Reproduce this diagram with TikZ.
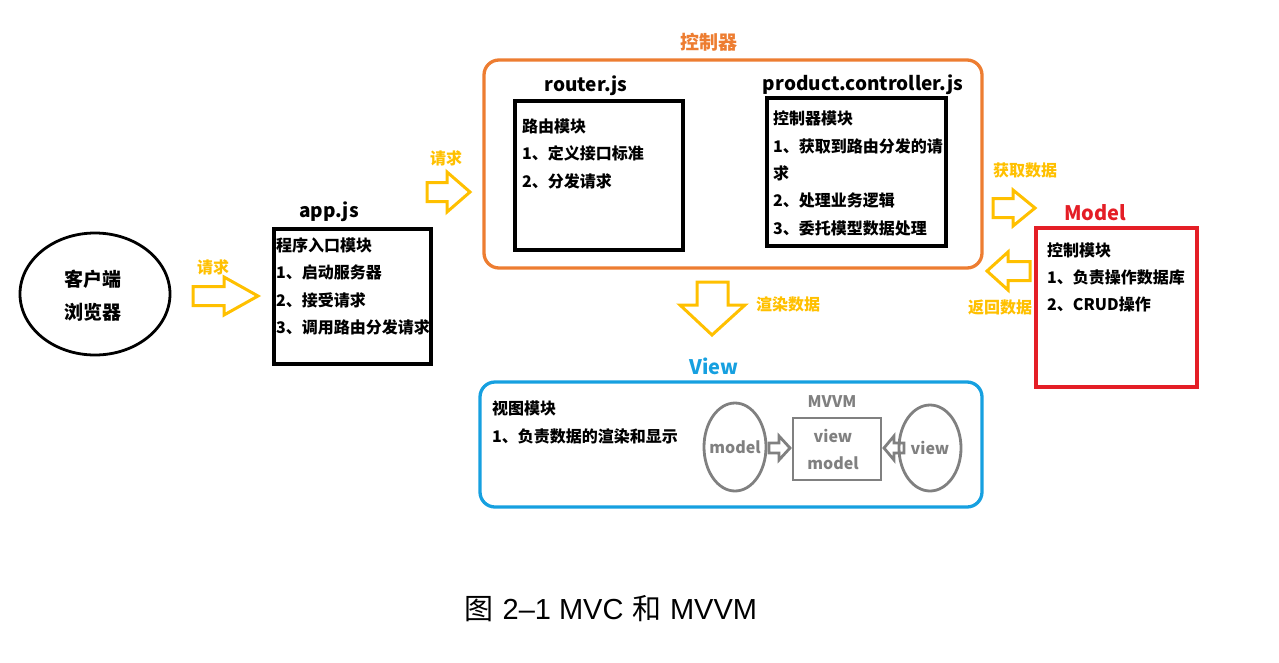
\documentclass[tikz,border=0pt]{standalone}
\usepackage{fontspec}
\newfontfamily\cjk{Noto Sans CJK SC}
\newfontfamily\capfont{Liberation Sans}
\usetikzlibrary{shapes.geometric}
\definecolor{orangeC}{RGB}{237,125,49}
\definecolor{yellowC}{RGB}{255,192,0}
\definecolor{redC}{RGB}{228,30,38}
\definecolor{blueC}{RGB}{22,160,224}
\definecolor{grayC}{RGB}{128,128,128}
\begin{document}
\begin{tikzpicture}[x=1pt,y=-1pt,
  txt/.style={font=\cjk\bfseries\fontsize{16}{19}\selectfont, inner sep=0, anchor=west},
  ttl/.style={font=\cjk\bfseries\fontsize{19}{23}\selectfont, inner sep=0},
  ylab/.style={font=\cjk\bfseries\fontsize{16}{19}\selectfont, inner sep=0, text=yellowC},
  gtxt/.style={font=\cjk\bfseries\fontsize{16}{19}\selectfont, inner sep=0, text=grayC},
  blk/.style={draw=yellowC, line width=3pt, line join=miter},
  gblk/.style={draw=grayC, line width=2.8pt, line join=miter},
  box/.style={draw, line width=3.3pt, inner sep=0, rectangle},
]
\useasboundingbox (0,0) rectangle (1279,662);

% client ellipse
\node[draw, line width=2.8pt, ellipse, inner sep=0, minimum width=150, minimum height=122] (client) at (95,294) {};
\node[font=\cjk\bfseries\fontsize{19}{21}\selectfont, inner sep=0] (c1) at (93,279) {客户端};
\node[font=\cjk\bfseries\fontsize{19}{21}\selectfont, inner sep=0] (c2) at (93,312) {浏览器};

% arrow 1
\draw[blk] (193,286.5) -- (224,286.5) -- (224,277) -- (258,296) -- (224,315) -- (224,305.5) -- (193,305.5) -- cycle;
\node[ylab] (l1) at (213,267) {请求};

% app.js
\node[ttl] (appt) at (329,212) {app.js};
\node[box] (app) at (352.5,296.5) [minimum width=157, minimum height=135] {};
\node[txt] (a1) at (276,245) {程序入口模块};
\node[txt] (a2) at (276,272) {1、启动服务器};
\node[txt] (a3) at (276,300) {2、接受请求};
\node[txt] (a4) at (276,327) {3、调用路由分发请求};

% arrow 2
\draw[blk] (427,182.5) -- (447,182.5) -- (447,172) -- (470,192) -- (447,212) -- (447,201.5) -- (427,201.5) -- cycle;
\node[ylab] (l2) at (446,158) {请求};

% controller
\node[draw=orangeC, line width=3.3pt, rounded corners=15pt, inner sep=0, minimum width=498, minimum height=208] (ctrl) at (733,164) {};
\node[font=\cjk\bfseries\fontsize{19}{22}\selectfont, inner sep=0, text=orangeC] (ctrlt) at (709,42) {控制器};

\node[ttl] (routert) at (586,86) {router.js};
\node[box] (router) at (599,175.5) [minimum width=168, minimum height=149] {};
\node[txt] (r1) at (522,126) {路由模块};
\node[txt] (r2) at (522,153) {1、定义接口标准};
\node[txt] (r3) at (522,181) {2、分发请求};

\node[ttl] (prodt) at (863,85) {product.controller.js};
\node[box] (prod) at (856.5,172) [minimum width=179, minimum height=148] {};
\node[txt] (p1) at (773,118) {控制器模块};
\node[txt] (p2) at (773,146) {1、获取到路由分发的请};
\node[txt] (p3) at (773,173) {求};
\node[txt] (p4) at (773,200) {2、处理业务逻辑};
\node[txt] (p5) at (773,228) {3、委托模型数据处理};

% get / return data arrows
\draw[blk] (993,198.5) -- (1013,198.5) -- (1013,190) -- (1035,208) -- (1013,226) -- (1013,217.5) -- (993,217.5) -- cycle;
\node[ylab] (l3) at (1025,170) {获取数据};
\draw[blk] (1030,261.5) -- (1008,261.5) -- (1008,252) -- (987,271) -- (1008,290) -- (1008,280.5) -- (1030,280.5) -- cycle;
\node[ylab] (l4) at (1000,307) {返回数据};

% model
\node[font=\cjk\bfseries\fontsize{20}{24}\selectfont, inner sep=0, text=redC] (modelt) at (1095,213) {Model};
\node[box, draw=redC] (model) at (1116.5,307.5) [minimum width=161, minimum height=159] {};
\node[txt] (m1) at (1047,250) {控制模块};
\node[txt] (m2) at (1047,277) {1、负责操作数据库};
\node[txt] (m3) at (1047,304) {2、CRUD操作};

% render arrow
\draw[blk] (697,282) -- (728,282) -- (728,305) -- (745,305) -- (712,335) -- (680,305) -- (697,305) -- cycle;
\node[ylab] (l5) at (788,304) {渲染数据};

% view
\node[font=\cjk\bfseries\fontsize{20}{24}\selectfont, inner sep=0, text=blueC] (viewt) at (714,366) {View};
\node[draw=blueC, line width=3.3pt, rounded corners=15pt, inner sep=0, minimum width=502, minimum height=125] (view) at (731,444.5) {};
\node[txt] (v1) at (492,408) {视图模块};
\node[txt] (v2) at (492,436) {1、负责数据的渲染和显示};

% MVVM
\node[gtxt] (mvvmt) at (832,402) {MVVM};
\node[draw=grayC, line width=2.8pt, ellipse, inner sep=0, minimum width=62, minimum height=88] (mm) at (735,447) {};
\node[gtxt] (mmt) at (mm) {model};
\node[draw=grayC, line width=2.8pt, rectangle, inner sep=0, minimum width=88, minimum height=62] (vm) at (837,449) {};
\node[gtxt] (vm1) at (833,436) {view};
\node[gtxt] (vm2) at (833,463) {model};
\node[draw=grayC, line width=2.8pt, ellipse, inner sep=0, minimum width=62, minimum height=86] (vv) at (930,448) {};
\node[gtxt] (vvt) at (vv) {view};
\draw[gblk] (769,443) -- (779,443) -- (779,436) -- (790,448) -- (779,460) -- (779,453) -- (769,453) -- cycle;
\draw[gblk] (904,443) -- (894,443) -- (894,436) -- (884,448) -- (894,460) -- (894,453) -- (904,453) -- cycle;

% caption
\node[font=\fontsize{29}{32}\selectfont, inner sep=0] (cap) at (611,609) {{\cjk 图} {\capfont 2–1 MVC} {\cjk 和} {\capfont MVVM}};
\end{tikzpicture}
\end{document}
